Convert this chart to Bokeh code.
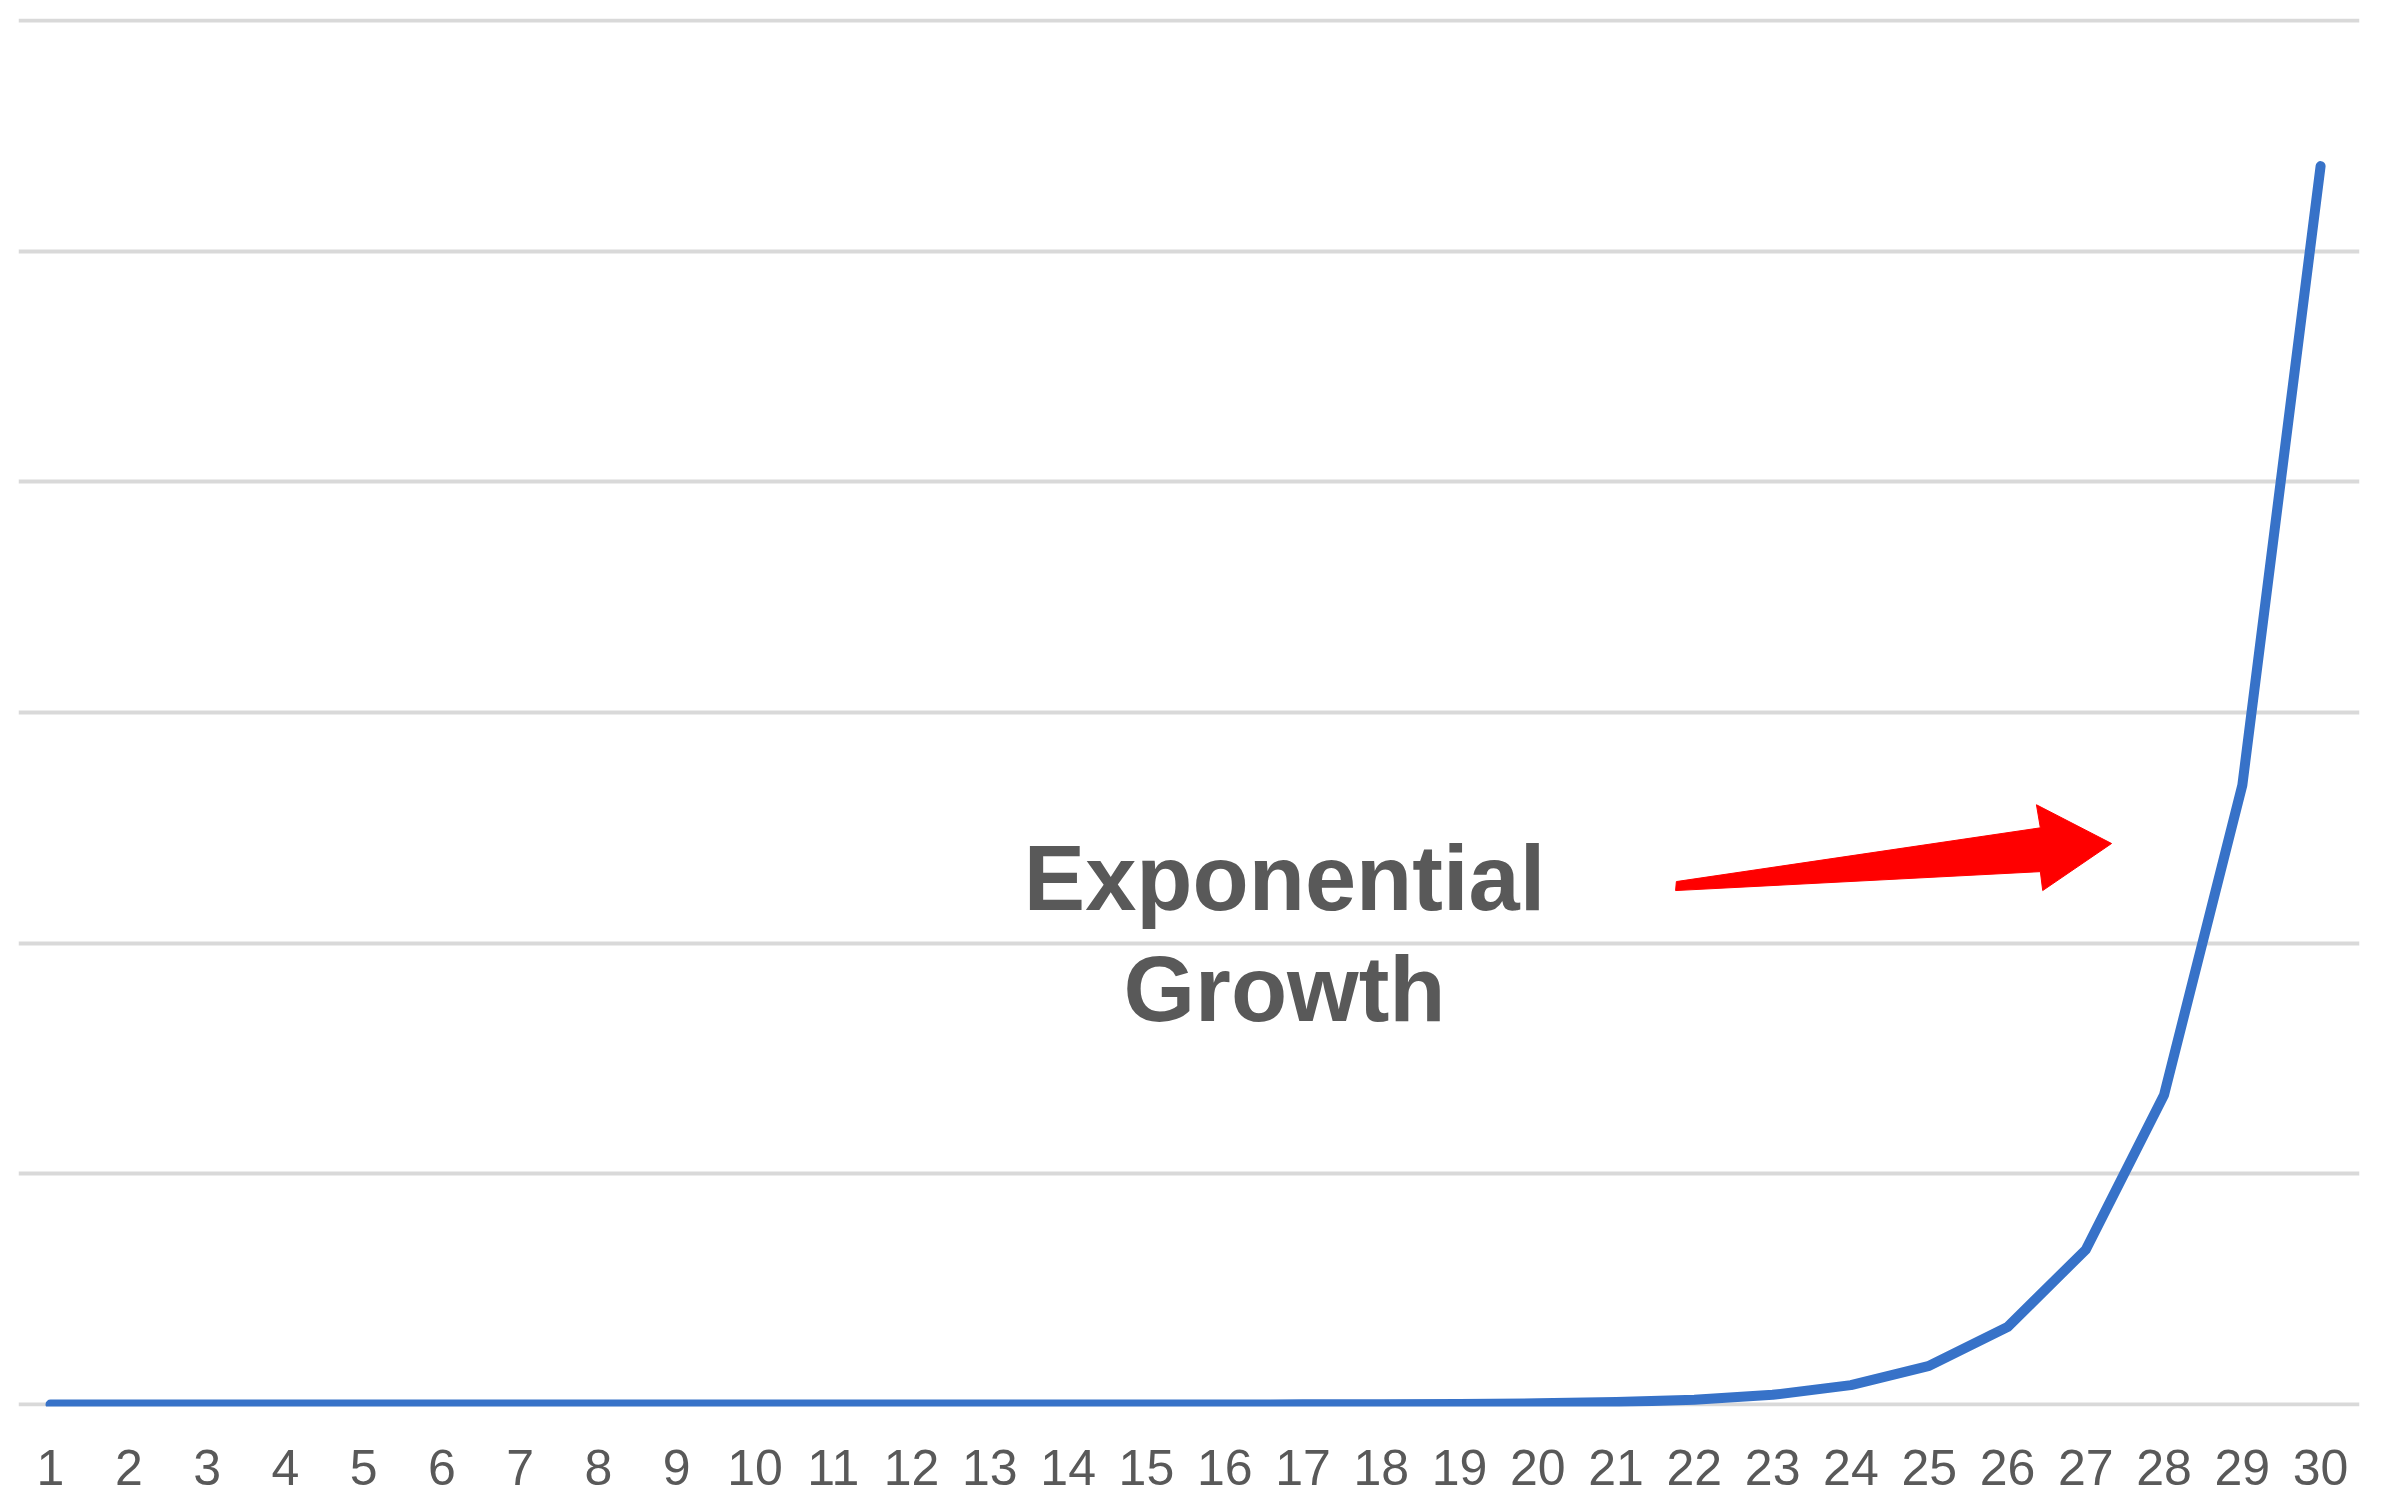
from bokeh.plotting import figure
from bokeh.models import Range1d, FixedTicker, Label
from bokeh.embed import file_html
from bokeh.resources import INLINE

# ---- data ----
periods = list(range(1, 31))
values = [1, 2, 4, 8, 16, 32, 64, 128, 256, 512,
          1024, 2048, 4096, 8192, 16384, 32768, 65536, 131072, 262144, 524288,
          1048576, 2097152, 4194304, 8388608, 16777216, 33554432, 67108864,
          134217728, 268435456, 536870912]
grid_values = [0, 100_000_000, 200_000_000, 300_000_000, 400_000_000, 500_000_000, 600_000_000]
annotation_lines = ["Exponential", "Growth"]

# ---- figure ----
p = figure(width=2374, height=1494, output_backend="svg", toolbar_location=None,
           x_range=Range1d(0.591, 30.497), y_range=Range1d(-0.00867e8, 6.0086e8),
           min_border_left=18, min_border_right=15, min_border_top=18, min_border_bottom=88)
p.outline_line_color = None
p.background_fill_color = "white"
p.border_fill_color = "white"

p.yaxis.visible = False
p.xgrid.grid_line_color = None
p.ygrid.ticker = FixedTicker(ticks=grid_values)
p.ygrid.grid_line_color = "#D9D9D9"
p.ygrid.grid_line_width = 4

ax = p.xaxis[0]
ax.ticker = FixedTicker(ticks=periods)
ax.axis_line_color = None
ax.major_tick_line_color = None
ax.minor_tick_line_color = None
ax.major_tick_out = 0
ax.major_tick_in = 0
ax.minor_tick_out = 0
ax.major_label_standoff = 43
ax.major_label_text_font = "Liberation Sans"
ax.major_label_text_font_size = "50px"
ax.major_label_text_color = "#595959"

# main series
p.line(periods, values, line_color="#3772C8", line_width=10,
       line_cap="round", line_join="round")

# red tapered arrow (annotation)
arrow_x = [21.77, 26.42, 26.37, 27.33, 26.45, 26.42, 21.76]
arrow_y = [2.267e8, 2.50e8, 2.60e8, 2.432e8, 2.228e8, 2.31e8, 2.228e8]
p.patch(arrow_x, arrow_y, fill_color="#FF0000", line_color="#FF0000", line_width=1)

# annotation text
for txt, yy in zip(annotation_lines, [2.284e8, 1.803e8]):
    p.add_layout(Label(x=16.764, y=yy, text=txt, text_align="center",
                       text_baseline="alphabetic", text_font="Liberation Sans",
                       text_font_style="bold", text_font_size="92px",
                       text_color="#595959"))

open("out.html", "w").write(file_html(p, INLINE))
